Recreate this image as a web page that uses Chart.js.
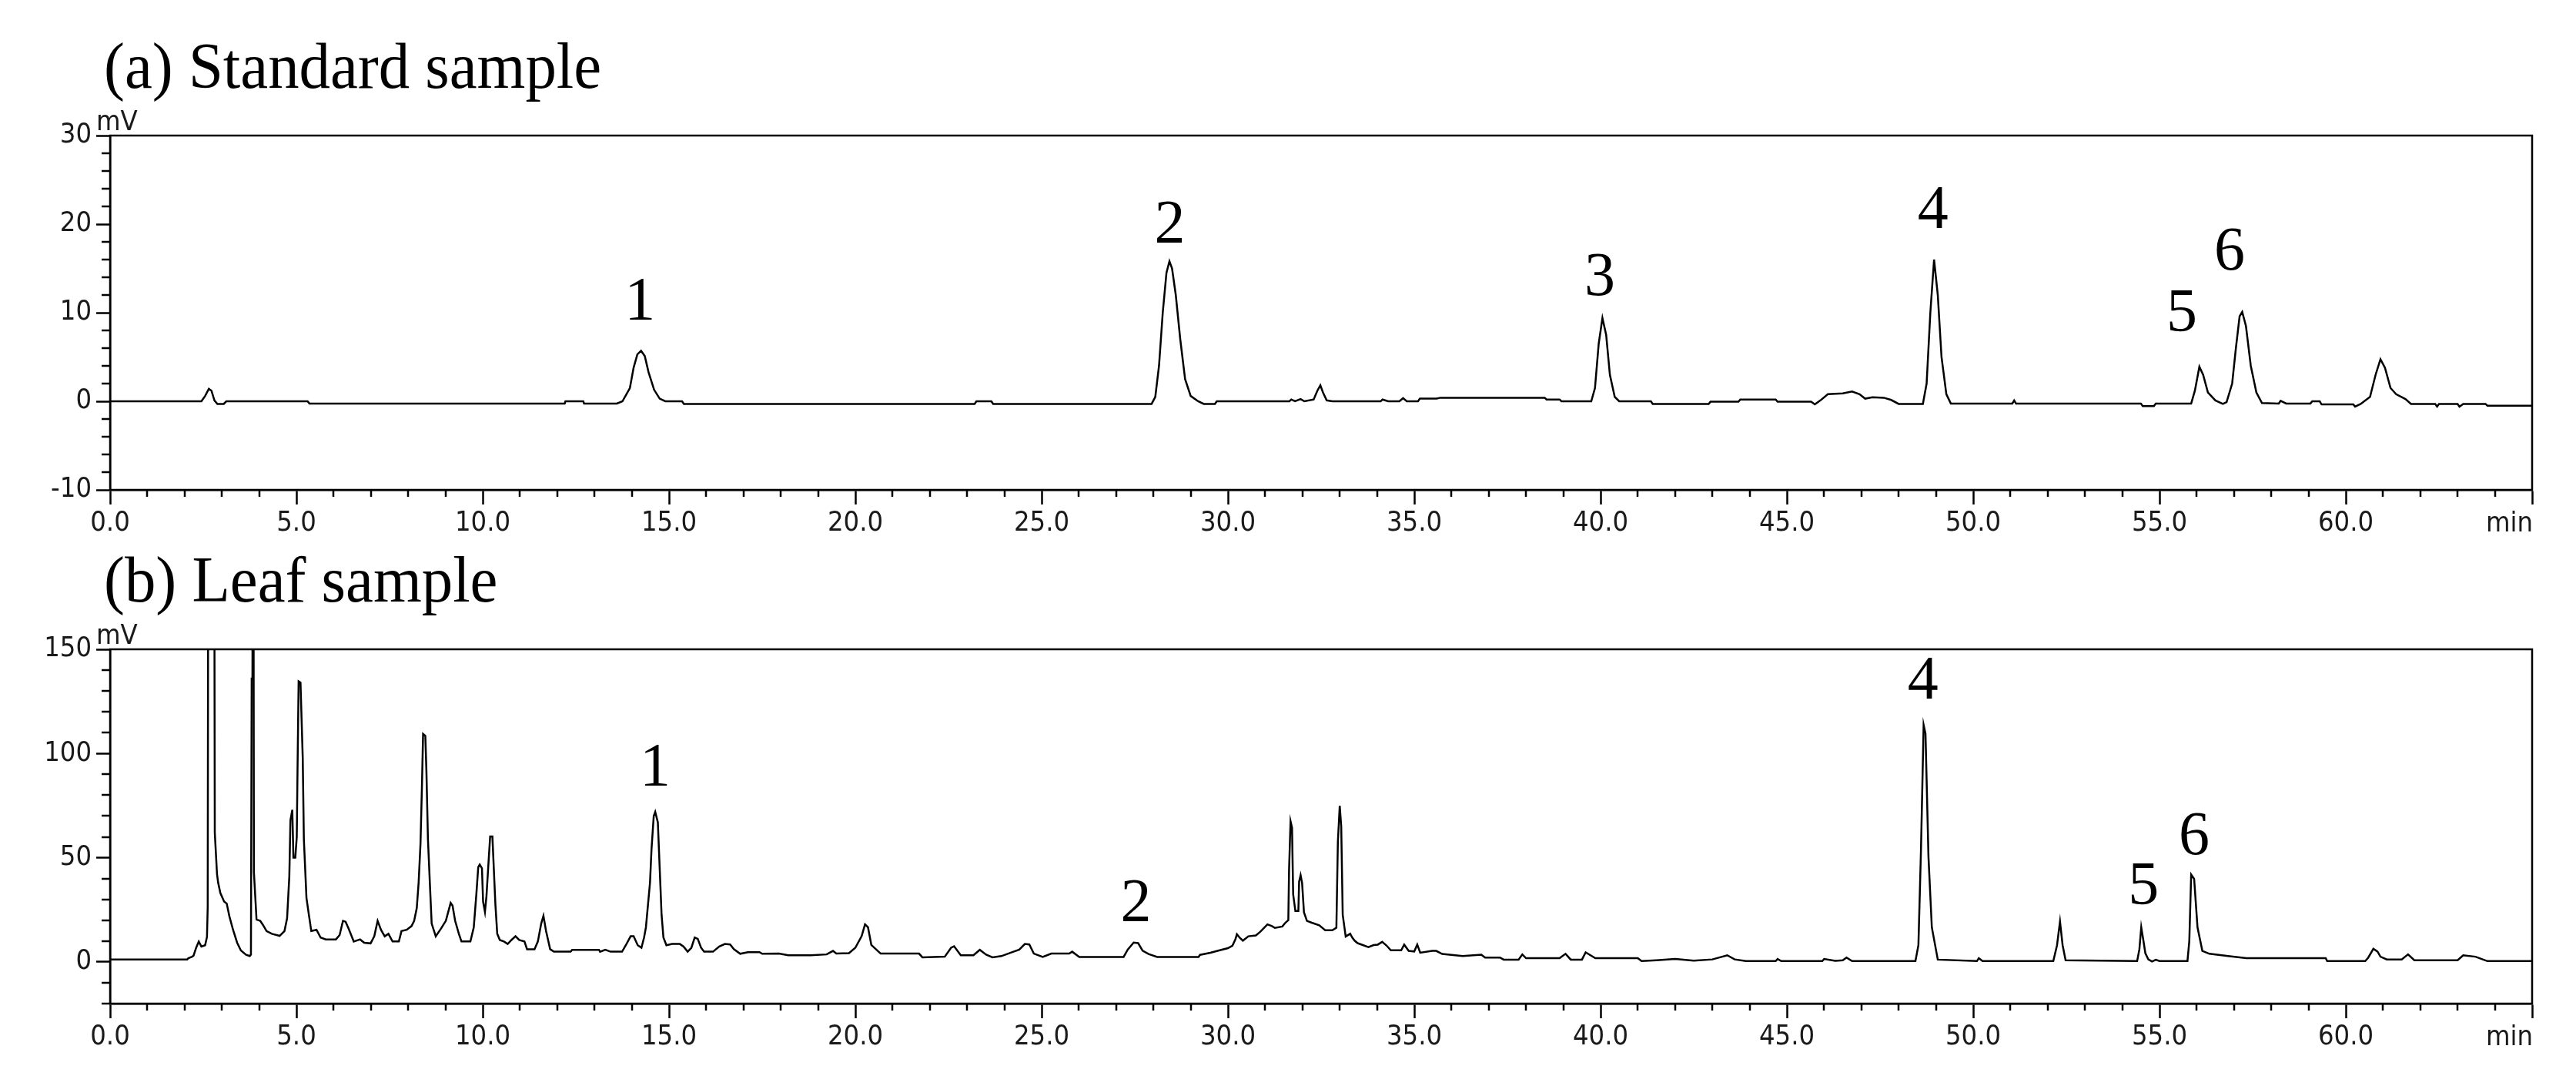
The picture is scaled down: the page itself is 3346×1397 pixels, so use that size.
<!DOCTYPE html>
<html><head><meta charset="utf-8">
<script src="https://cdn.jsdelivr.net/npm/chart.js@4.4.0/dist/chart.umd.min.js"></script>
<style>
html,body{margin:0;padding:0;background:#fff;}
body{width:3346px;height:1397px;position:relative;overflow:hidden;}
.panel{position:absolute;left:0;width:3346px;height:700px;}
canvas{display:block;}
</style></head><body>
<div class="panel" style="top:0px"><canvas id="cA" width="3346" height="700"></canvas></div>
<div class="panel" style="top:667px"><canvas id="cB" width="3346" height="700"></canvas></div>
<script>
// ---------- data ----------
const titleA = '(a) Standard sample';
const titleB = '(b) Leaf sample';

const xTickValues = [0,5,10,15,20,25,30,35,40,45,50,55,60,65];
const xTickLabels = ['0.0','5.0','10.0','15.0','20.0','25.0','30.0','35.0','40.0','45.0','50.0','55.0','60.0',''];
const xUnit = 'min';
const yUnit = 'mV';
const yTickValuesA = [-10,0,10,20,30];
const yTickValuesB = [0,50,100,150];

// (a) standard sample trace: retention time (min), signal (mV)
const timesA = [0,2.45,2.55,2.65,2.72,2.8,2.88,3.05,3.12,5.3,5.35,12.2,12.22,12.7,12.72,13.6,13.75,13.95,14.05,14.15,14.25,14.35,14.45,14.6,14.75,14.9,15.35,15.4,23.2,23.25,23.65,23.7,27.95,28.05,28.15,28.25,28.35,28.43,28.5,28.6,28.72,28.85,29.0,29.2,29.35,29.65,29.7,31.65,31.7,31.8,31.95,32.05,32.3,32.4,32.48,32.55,32.65,32.8,34.1,34.15,34.3,34.6,34.7,34.8,35.1,35.15,35.6,35.7,38.5,38.55,38.9,38.95,39.75,39.85,39.95,40.05,40.15,40.25,40.38,40.5,41.35,41.4,42.9,42.95,43.7,43.75,44.7,44.75,45.65,45.75,45.9,46.1,46.5,46.75,46.95,47.1,47.3,47.6,47.8,48.0,48.65,48.75,48.85,48.95,49.05,49.15,49.28,49.4,51.05,51.1,51.15,54.5,54.55,54.85,54.9,55.85,55.95,56.07,56.17,56.3,56.5,56.7,56.8,56.95,57.05,57.15,57.22,57.32,57.45,57.6,57.75,58.2,58.25,58.4,59.05,59.1,59.3,59.35,60.2,60.25,60.4,60.65,60.8,60.93,61.05,61.2,61.35,61.6,61.75,62.4,62.45,62.5,63.0,63.05,63.15,63.75,63.8,65];
const valuesA = [0,0,0.6,1.4,1.2,0.1,-0.3,-0.3,0,0,-0.25,-0.25,0,0,-0.25,-0.25,0,1.5,3.8,5.3,5.7,5.1,3.3,1.3,0.3,0,0,-0.3,-0.3,0,0,-0.3,-0.3,0.5,4,10,14.5,15.8,15,12,7,2.5,0.6,0,-0.3,-0.3,0,0,0.2,0,0.25,0,0.2,1.2,1.8,1.0,0.1,0,0,0.2,0,0,0.35,0,0,0.3,0.3,0.4,0.4,0.2,0.2,0,0,1.5,6.5,9.4,7.5,3,0.5,0,0,-0.3,-0.3,-0.05,-0.05,0.2,0.2,-0.05,-0.05,-0.35,0.1,0.8,0.9,1.1,0.8,0.3,0.45,0.4,0.15,-0.3,-0.3,2,10,16,12,5,0.8,-0.25,-0.25,0.1,-0.25,-0.25,-0.55,-0.55,-0.25,-0.25,1.2,3.9,3.0,1.0,0.1,-0.3,-0.1,2,6,9.6,10.1,8.5,4,1.0,-0.2,-0.25,0.05,-0.25,-0.25,0,0,-0.35,-0.35,-0.6,-0.3,0.5,3,4.75,3.8,1.5,0.8,0.25,-0.3,-0.3,-0.6,-0.3,-0.3,-0.6,-0.3,-0.3,-0.5,-0.5];

// (b) leaf sample trace: retention time (min), signal (mV)
const timesB = [0,2.07,2.1,2.2,2.24,2.31,2.38,2.45,2.55,2.6,2.62,2.65,2.78,2.81,2.87,2.9,2.96,3.06,3.13,3.2,3.3,3.41,3.51,3.65,3.75,3.78,3.8,3.82,3.84,3.86,3.93,4.03,4.1,4.2,4.34,4.55,4.68,4.75,4.81,4.84,4.89,4.92,4.97,5.01,5.03,5.06,5.11,5.17,5.2,5.27,5.34,5.4,5.54,5.65,5.79,6.06,6.16,6.25,6.32,6.4,6.54,6.71,6.82,6.99,7.09,7.18,7.27,7.37,7.47,7.58,7.75,7.82,7.96,8.09,8.16,8.23,8.28,8.33,8.37,8.4,8.46,8.49,8.53,8.59,8.63,8.74,8.88,9.01,9.14,9.19,9.26,9.36,9.43,9.67,9.76,9.83,9.88,9.92,9.98,10.01,10.06,10.1,10.15,10.2,10.26,10.29,10.34,10.39,10.46,10.57,10.67,10.77,10.88,10.98,11.12,11.19,11.39,11.48,11.57,11.63,11.7,11.81,11.91,12.36,12.4,13.12,13.15,13.29,13.43,13.74,13.84,13.97,14.05,14.16,14.26,14.33,14.38,14.43,14.49,14.53,14.59,14.63,14.7,14.75,14.8,14.85,14.93,15.08,15.29,15.39,15.5,15.6,15.69,15.77,15.86,15.94,16.18,16.35,16.5,16.64,16.74,16.91,17.12,17.43,17.5,17.95,18.2,18.8,19.23,19.4,19.49,19.83,20.0,20.17,20.26,20.34,20.43,20.68,21.71,21.8,22.4,22.57,22.65,22.83,23.17,23.34,23.51,23.68,23.92,24.2,24.4,24.55,24.67,24.79,25.03,25.26,25.74,25.82,26.01,27.2,27.31,27.47,27.59,27.71,27.87,28.1,29.21,29.25,29.53,29.72,30.0,30.12,30.2,30.24,30.32,30.4,30.55,30.75,30.87,31.06,31.18,31.26,31.46,31.54,31.62,31.64,31.68,31.72,31.75,31.81,31.89,31.91,31.95,31.99,32.04,32.12,32.25,32.45,32.61,32.8,32.91,32.95,33.0,33.04,33.08,33.16,33.28,33.34,33.4,33.48,33.77,33.91,34.02,34.14,34.26,34.37,34.65,34.73,34.85,35.0,35.08,35.16,35.48,35.59,35.75,36.3,36.8,36.9,37.3,37.4,37.8,37.9,38.0,38.9,39.06,39.2,39.5,39.6,39.86,41.0,41.1,41.5,42.0,42.5,43.0,43.4,43.6,43.9,44.7,44.75,44.85,45.95,46.0,46.3,46.5,46.6,46.75,48.45,48.53,48.6,48.67,48.72,48.8,48.89,49.05,50.1,50.15,50.25,52.15,52.25,52.33,52.4,52.48,54.4,54.46,54.51,54.57,54.62,54.7,54.8,54.9,55.0,55.75,55.8,55.85,55.93,56.02,56.15,56.34,56.84,57.33,59.46,59.5,60.52,60.6,60.74,60.85,60.93,61.1,61.5,61.67,61.84,63.0,63.15,63.48,63.8,65];
const valuesB = [1.2,1.2,1.8,2.5,3,6.8,9.8,7.4,8,12,26.4,420,380,62,42,38,33,29,28,22,15.4,9.2,5.5,3.4,2.8,3.5,136,136,320,43,20.3,19.7,17.8,14.8,13.5,12.5,14.8,20.9,41,68,73,50,50,60,92,134.6,134,98,59,30.7,22,14.8,15.4,11.7,10.8,10.8,12.9,19.7,19.3,16,9.8,10.8,9.2,8.9,12.3,19.7,15.4,12.3,13.5,9.8,9.8,14.8,15.4,17.2,19.7,25.8,38,56.6,84.8,109.4,108.5,91,59,34.4,18.4,12.3,16,19.7,28.3,27,19.7,13.5,9.8,9.8,16.6,32.6,45.5,46.7,44.9,28.9,24,31.4,46,60.2,60.2,48,27.7,13.5,10.5,9.8,8.6,10.5,12.3,10.5,9.8,6.1,6.1,9.8,18.4,22.1,14.8,6.1,4.9,4.9,5.8,5.8,4.9,5.8,4.9,4.9,8,12.3,12.3,8,6.8,11.7,16.6,26.4,38.1,54.1,70,72,67,44.9,22.7,11.7,8,8.6,8.6,7.4,4.9,6.8,11.7,11.1,6.8,4.9,4.9,7.4,8.6,8.4,6.1,3.9,4.7,4.7,3.9,4,3.2,3.2,3.6,5.3,4,4.2,6.8,12.4,18,16.6,8.1,4,4,2.2,2.5,6.8,7.5,3.2,3.2,5.8,3.5,2.2,2.8,4.6,5.9,8.6,8.4,4,2.4,4,4,4.9,2.4,2.4,5.9,9.3,9,5.4,3.8,2.4,2.4,3.4,4.4,5.3,6.6,7.8,10.8,13.3,11.5,10.2,12.3,12.7,14.5,18,17.2,16.3,17,18.8,20,44,67.5,64.4,32.4,24.4,24.4,38.5,41.6,37.9,23.8,19.7,18.8,17.6,15.2,15.2,16.4,57.6,74.9,65,22.6,12.2,13.5,11.6,10.2,9,7.1,8.1,8.3,9.6,7.8,5.6,5.6,8.3,5.3,5.0,8.3,4.4,5.3,5.3,3.8,2.8,3.5,2.1,2.1,1.1,1.1,3.6,1.8,1.8,3.9,1.1,1.1,4.6,1.8,1.8,0.4,0.8,1.4,0.6,1.2,3.2,1.2,0.4,0.4,1.4,0.4,0.4,1.4,0.5,0.8,2.1,0.4,0.4,8,54.6,113.7,109.5,50.4,16.6,1.1,0.4,1.8,0.4,0.4,8,19.4,8,0.8,0.4,6,16.6,10,4.2,1.2,0.2,1.0,0.4,0.4,10,41.9,39.8,16.6,5.3,3.9,2.8,1.8,1.8,0.4,0.4,2,6.3,5,2.5,1.2,1.2,3.6,0.8,0.8,3.2,2.5,0.4,0.4];

// peak annotations
const peakNamesA = ['1','2','3','4','5','6'];
const peakTimesA = [14.22,28.44,39.98,48.92,55.6,56.88];
const peakLevelsA = [9.2,17.9,12.0,19.6,7.9,14.9];
const peakNamesB = ['1','2','4','5','6'];
const peakTimesB = [14.63,27.53,48.65,54.57,55.93];
const peakLevelsB = [84.5,19.4,126.4,27.8,51.8];

// ---------- chart ----------
const tickFont = '"Liberation Sans Narrow","DejaVu Sans Condensed","Liberation Sans",sans-serif';
const serif = '"Liberation Serif","DejaVu Serif",serif';

const decor = {
  id: 'decor',
  afterDraw(chart, args, o) {
    const ctx = chart.ctx, a = chart.chartArea, x = chart.scales.x, y = chart.scales.y;
    ctx.save();
    ctx.strokeStyle = '#000';
    ctx.lineWidth = 2.5;
    ctx.strokeRect(a.left, a.top, a.right - a.left, a.bottom - a.top);
    ctx.beginPath();
    for (let t = x.min; t <= x.max; t += 1) {
      if (t % 5 === 0) continue;
      const px = Math.round(x.getPixelForValue(t));
      ctx.moveTo(px, a.bottom); ctx.lineTo(px, a.bottom + 9);
    }
    for (let v = y.min; v <= y.max + 1e-9; v += o.minorStep) {
      if (o.majors.includes(v)) continue;
      const py = Math.round(y.getPixelForValue(v));
      ctx.moveTo(a.left - 11, py); ctx.lineTo(a.left, py);
    }
    ctx.stroke();
    ctx.fillStyle = '#000';
    ctx.textBaseline = 'alphabetic';
    ctx.textAlign = 'left';
    // title (slightly tall, as in the source figure)
    ctx.save();
    ctx.translate(135, 114);
    ctx.scale(1.01, 1.07);
    ctx.font = '80px ' + serif;
    ctx.fillText(o.title, 0, 0);
    ctx.restore();
    ctx.fillStyle = '#1a1a1a';
    ctx.font = '36px ' + tickFont;
    ctx.fillText(yUnit, a.left - 18, a.top - 7);
    ctx.textAlign = 'right';
    ctx.fillText(xUnit, x.getPixelForValue(x.max) + 1, a.bottom + 54);
    ctx.fillStyle = '#000';
    ctx.textAlign = 'center';
    ctx.font = '80px ' + serif;
    o.names.forEach((n, i) => {
      ctx.fillText(n, x.getPixelForValue(o.times[i]), y.getPixelForValue(o.levels[i]));
    });
    ctx.restore();
  }
};

function makeChart(id, times, values, yMin, yMax, yTicks, minorStep, title, names, ptimes, plevels) {
  const pts = times.map((t, i) => ({x: t, y: values[i]}));
  return new Chart(document.getElementById(id), {
    type: 'line',
    data: { datasets: [{ data: pts, borderColor: '#000', borderWidth: 2.5, pointRadius: 0, tension: 0, fill: false }] },
    options: {
      responsive: false, animation: false, devicePixelRatio: 1,
      layout: { padding: { top: 176, right: 57, bottom: 4, left: 0 } },
      plugins: {
        legend: { display: false }, tooltip: { enabled: false },
        decor: { title: title, names: names, times: ptimes, levels: plevels, minorStep: minorStep, majors: yTicks }
      },
      scales: {
        x: {
          type: 'linear', min: 0, max: 65,
          afterBuildTicks: s => { s.ticks = xTickValues.map(v => ({value: v})); },
          afterFit: s => { s.height = 60; },
          border: { display: true, color: '#000', width: 2.5 },
          grid: { drawOnChartArea: false, drawTicks: true, tickLength: 19, tickWidth: 2.5, tickColor: '#000' },
          ticks: { autoSkip: false, maxRotation: 0, padding: 3, color: '#1a1a1a',
                   font: { family: tickFont, size: 36 },
                   callback: (v) => { const i = xTickValues.indexOf(v); return i >= 0 ? xTickLabels[i] : ''; } }
        },
        y: {
          type: 'linear', min: yMin, max: yMax,
          afterBuildTicks: s => { s.ticks = yTicks.map(v => ({value: v})); },
          afterFit: s => { s.width = 143; },
          border: { display: true, color: '#000', width: 2.5 },
          grid: { drawOnChartArea: false, drawTicks: true, tickLength: 18, tickWidth: 2.5, tickColor: '#000' },
          ticks: { padding: 6, color: '#1a1a1a', font: { family: tickFont, size: 36 },
                   callback: v => String(v) }
        }
      }
    },
    plugins: [decor]
  });
}

makeChart('cA', timesA, valuesA, -10, 30, yTickValuesA, 2, titleA, peakNamesA, peakTimesA, peakLevelsA);
makeChart('cB', timesB, valuesB, -20, 150, yTickValuesB, 10, titleB, peakNamesB, peakTimesB, peakLevelsB);
</script>
</body></html>
